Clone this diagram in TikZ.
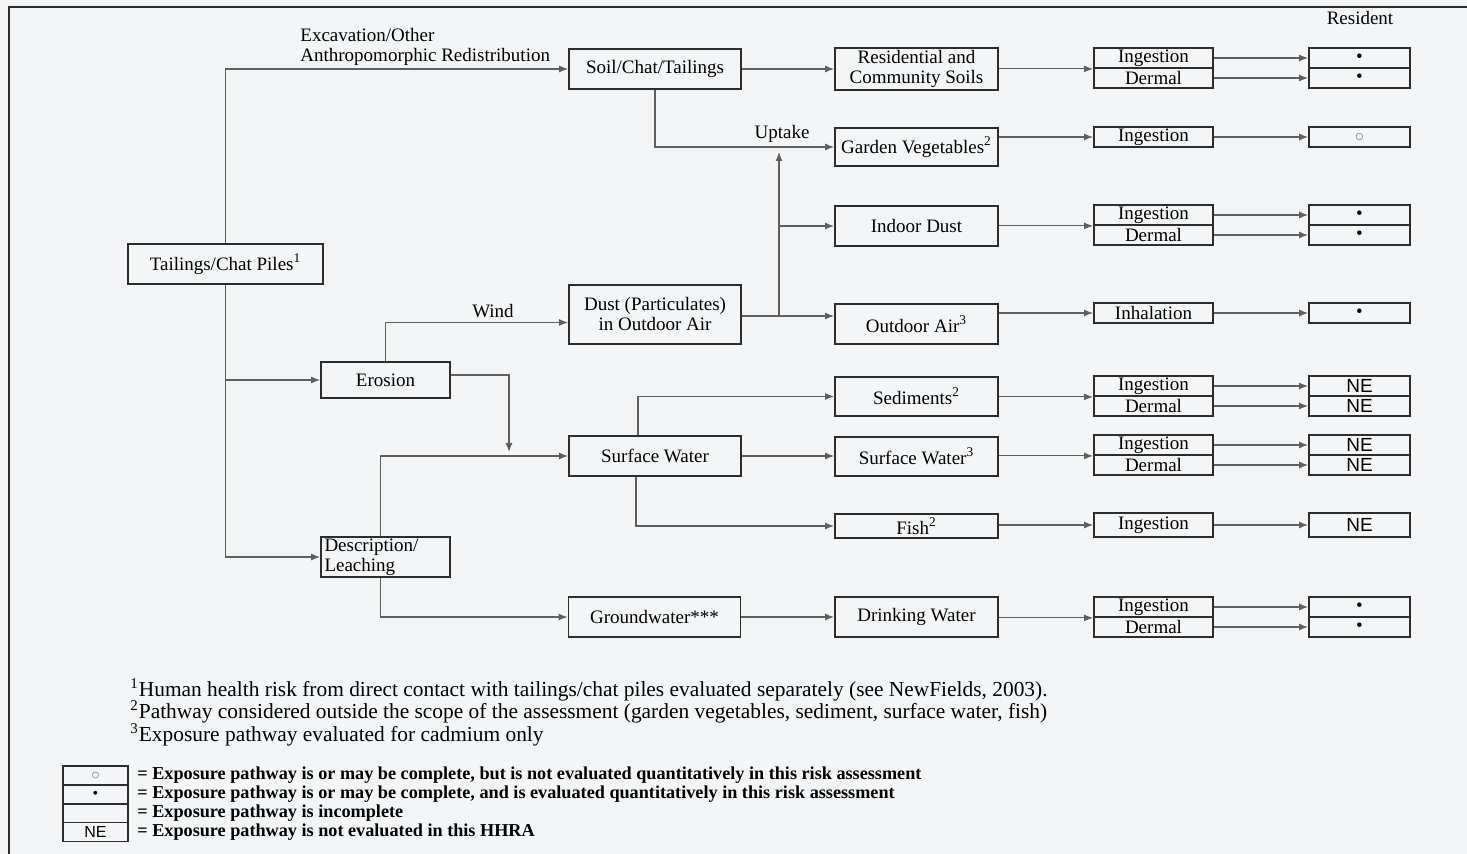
\documentclass[tikz,border=0pt]{standalone}
\usepackage{fontspec}
\setmainfont{Liberation Serif}
\setsansfont{Liberation Sans}
\usetikzlibrary{arrows.meta}
\definecolor{paper}{RGB}{243,245,246}
\definecolor{ink}{RGB}{45,45,45}
\definecolor{wire}{RGB}{95,95,95}
\tikzset{
  box/.style={draw=ink, line width=0.9pt, inner sep=1pt, align=center, font=\fontsize{9.5}{10}\selectfont},
  rt/.style={box, minimum width=59.5pt, inner sep=0pt},
  rc/.style={box, minimum width=50.5pt, inner sep=0pt},
  lg/.style={box, minimum width=32.5pt, minimum height=9.5pt, inner sep=0pt, font=\fontsize{8}{9}\selectfont},
  arr/.style={draw=wire, line width=0.6pt, -{Latex[length=4.5pt,width=3.5pt]}},
  txt/.style={inner sep=0pt, font=\fontsize{9.5}{10}\selectfont},
}

\begin{document}
\begin{tikzpicture}[x=0.5pt,y=-0.5pt]
\fill[paper] (0,0) rectangle (1467,854);
\useasboundingbox (0,0) rectangle (1467,854);
\draw[ink, line width=0.8pt] (9,854) -- (9,7) -- (1467,7);

% sources and release
\node[box, minimum width=97.5pt, minimum height=20pt] at (225.5,264) (tcp) {Tailings/Chat Piles\textsuperscript{1}};
\node[box, minimum width=64.5pt, minimum height=18pt] at (385.5,380) (ero) {Erosion};
\node[box, minimum width=64.5pt, minimum height=20pt, text width=61pt, align=left] at (385.5,557) (des) {Description/\\Leaching};

% transport media
\node[box, minimum width=86pt, minimum height=20pt] at (655,69) (soil) {Soil/Chat/Tailings};
\node[box, minimum width=86pt, minimum height=29.5pt] at (655,314.5) (dust) {Dust (Particulates)\\in Outdoor Air};
\node[box, minimum width=86pt, minimum height=20pt] at (655,456) (sw) {Surface Water};
\node[box, minimum width=86pt, minimum height=20pt] at (654.5,617) (gw) {Groundwater***};

% exposure media
\node[box, minimum width=81.5pt, minimum height=20pt] at (916.5,69) (res) {Residential and\\Community Soils};
\node[box, minimum width=81.5pt, minimum height=19pt] at (916.5,147) (gv) {Garden Vegetables\textsuperscript{2}};
\node[box, minimum width=81.5pt, minimum height=20pt] at (916.5,226) (id) {Indoor Dust};
\node[box, minimum width=81.5pt, minimum height=20pt] at (916.5,324) (oa) {Outdoor Air\textsuperscript{3}};
\node[box, minimum width=81.5pt, minimum height=19.5pt] at (916.5,396.5) (sed) {Sediments\textsuperscript{2}};
\node[box, minimum width=81.5pt, minimum height=19.5pt] at (916.5,456.5) (swe) {Surface Water\textsuperscript{3}};
\node[box, minimum width=81.5pt, minimum height=12pt] at (916.5,526) (fish) {Fish\textsuperscript{2}};
\node[box, minimum width=81.5pt, minimum height=20pt] at (916.5,617) (dw) {Drinking Water};

% routes and resident
\node[txt] at (1360,18) (resident) {Resident};
\foreach \n/\y/\h/\t/\r in {A1/58/10/Ingestion/\textbullet, A2/78/10/Dermal/\textbullet,
    B/137/10/Ingestion/{\color{gray}$\circ$},
    C1/215/10/Ingestion/\textbullet, C2/235/10/Dermal/\textbullet,
    D/313/10/Inhalation/\textbullet,
    E1/386/10/Ingestion/{\sffamily NE}, E2/406/10/Dermal/{\sffamily NE},
    F1/445/10/Ingestion/{\sffamily NE}, F2/465/10/Dermal/{\sffamily NE},
    G/525/12/Ingestion/{\sffamily NE},
    H1/607/10/Ingestion/\textbullet, H2/627/10/Dermal/\textbullet}{
  \node[rt, minimum height=\h pt] at (1153.5,\y) (rt\n) {\t};
  \node[rc, minimum height=\h pt] at (1359.5,\y) (rc\n) {\r};
  \draw[arr] (rt\n.east) -- (rc\n.west);
}
\foreach \m/\r in {res/rtA1.south west, gv/rtB.west, id/rtC1.south west, oa/rtD.west,
    sed/rtE1.south west, swe/rtF1.south west, fish/rtG.west, dw/rtH1.south west}{
  \draw[arr] (\m.east |- \r) -- (\r);
}

% release and transport
\draw[arr] (tcp.north) |- (soil.west);
\node[txt, anchor=west, align=left] at (300,47) (exc) {Excavation/Other\\Anthropomorphic Redistribution};
\draw[arr] (tcp.south) |- (ero.west);
\draw[arr] (tcp.south) |- (des.west);
\draw[arr] (ero.north) |- ([yshift=-4pt]dust.west);
\node[txt] at (493,311) (wind) {Wind};
\coordinate (drop) at (509,452);
\draw[arr] ([yshift=2.5pt]ero.east) -| (drop);
\draw[arr] ([xshift=-2.5pt]des.north) |- (sw.west);
\draw[arr] ([xshift=-2.5pt]des.south) |- (gw.west);
\draw[arr] (soil.south) |- (gv.west);
\node[txt] at (782,134) (uptake) {Uptake};
\draw[arr] (soil.east) -- (res.west);
\coordinate (dj) at (779,316);
\coordinate (ut) at (779,152);
\draw[arr] (dust.east |- dj) -- (oa.west |- dj);
\draw[arr] (dj) -- (ut);
\draw[arr] (dj |- id.west) -- (id.west);
\draw[arr] ([xshift=-8.5pt]sw.north) |- (sed.west);
\draw[arr] ([xshift=-9.5pt]sw.south) |- (fish.west);
\draw[arr] (sw.east) -- (sw.east -| swe.west);
\draw[arr] (gw.east) -- (gw.east -| dw.west);

% footnotes
\node[txt, anchor=west, font=\fontsize{10.7}{11}\selectfont] at (130,690) (fn1) {\textsuperscript{1}Human health risk from direct contact with tailings/chat piles evaluated separately (see NewFields, 2003).};
\node[txt, anchor=west, font=\fontsize{10.7}{11}\selectfont] at (130,712) (fn2) {\textsuperscript{2}Pathway considered outside the scope of the assessment (garden vegetables, sediment, surface water, fish)};
\node[txt, anchor=west, font=\fontsize{10.7}{11}\selectfont] at (130,735) (fn3) {\textsuperscript{3}Exposure pathway evaluated for cadmium only};

% legend
\foreach \k/\y/\s/\t in {1/775.5/{\color{gray}$\circ$}/{= Exposure pathway is or may be complete, but is not evaluated quantitatively in this risk assessment},
    2/794.5/\textbullet/{= Exposure pathway is or may be complete, and is evaluated quantitatively in this risk assessment},
    3/813/{}/{= Exposure pathway is incomplete},
    4/832/{\sffamily NE}/{= Exposure pathway is not evaluated in this HHRA}}{
  \node[lg] at (95.5,\y) (leg\k) {\s};
  \node[txt, anchor=west, font=\fontsize{9.1}{9.5}\selectfont\bfseries] at (137,\y) (legt\k) {\t};
}
\end{tikzpicture}
\end{document}
